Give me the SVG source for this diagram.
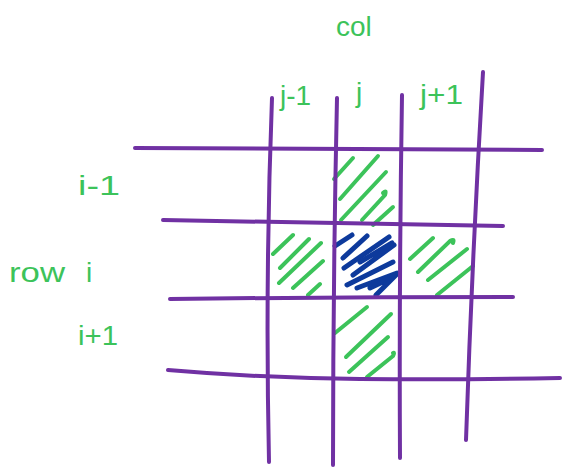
<svg xmlns="http://www.w3.org/2000/svg" width="562" height="472" viewBox="0 0 562 472">
<style>
.grid{fill:none;stroke:#7031a3;stroke-width:4;stroke-linecap:round}
.g{fill:none;stroke:#3cc35a;stroke-width:4;stroke-linecap:round}
.b{fill:none;stroke:#0d3a9c;stroke-width:5;stroke-linecap:round}
.t{fill:#3cc35a;font-family:"Liberation Sans",Arial,sans-serif;font-size:28px}
</style>
<rect width="562" height="472" fill="#fff"/>
<g id="hatch-top">
<path class="g" d="M334,179 L353,158 M340,199 L378,156 M341,220 L386,172 M362,220 L385,195 Q387,189 383,193 M373,225 L393,207"/>
</g>
<g id="hatch-left">
<path class="g" d="M273,254 L293,235 M280,268 L309,239 M279,283 L321,243 M293,288 L323,261 M308,295 L320,284"/>
</g>
<g id="hatch-right">
<path class="g" d="M410,259 L433,238 M418,272 L450,241 Q455,238 453,243 M428,280 L467,249 M437,295 L473,266"/>
</g>
<g id="hatch-bottom">
<path class="g" d="M335,333 L367,307 M346,357 L391,314 M349,372 L388,337 M367,377 L393,356 Q395,352 393,353"/>
</g>
<g id="hatch-center">
<path class="b" d="M335,246 L352,235 M343,258 L367,236 M344,268 L389,237 M347,285 L393,262 M357,288 L397,273 M376,295 L397,274 M370,288 L387,280"/>
<path class="b" stroke-width="7" d="M353,275 L394,245 M360,262 L392,243"/>
</g>
<g id="grid">
<path class="grid" d="M135,148 Q340,149 542,150"/>
<path class="grid" d="M163,220 Q340,223 503,226"/>
<path class="grid" d="M170,299 Q340,297 513,297"/>
<path class="grid" d="M168,370 Q260,378 360,379 Q460,380 560,378"/>
<path class="grid" d="M272,98 Q265,280 269,462"/>
<path class="grid" d="M337,98 Q333,280 333,465"/>
<path class="grid" d="M402,95 Q399,280 400,458"/>
<path class="grid" d="M483,72 Q472,260 466,440"/>
</g>
<g id="labels">
<text class="t" x="336" y="36" font-size="26">col</text>
<text class="t" x="356" y="102" font-size="42">j</text>
<text class="t" x="280" y="105">j-1</text>
<text class="t" x="420" y="104" font-size="30" textLength="43" lengthAdjust="spacingAndGlyphs">j+1</text>
<text class="t" x="78" y="195" font-size="32" textLength="42" lengthAdjust="spacingAndGlyphs">i-1</text>
<text class="t" x="9" y="282" font-size="32" textLength="56" lengthAdjust="spacingAndGlyphs">row</text>
<text class="t" x="86" y="282" font-size="32">i</text>
<text class="t" x="78" y="345" font-size="32" textLength="40" lengthAdjust="spacingAndGlyphs">i+1</text>
</g>
</svg>
